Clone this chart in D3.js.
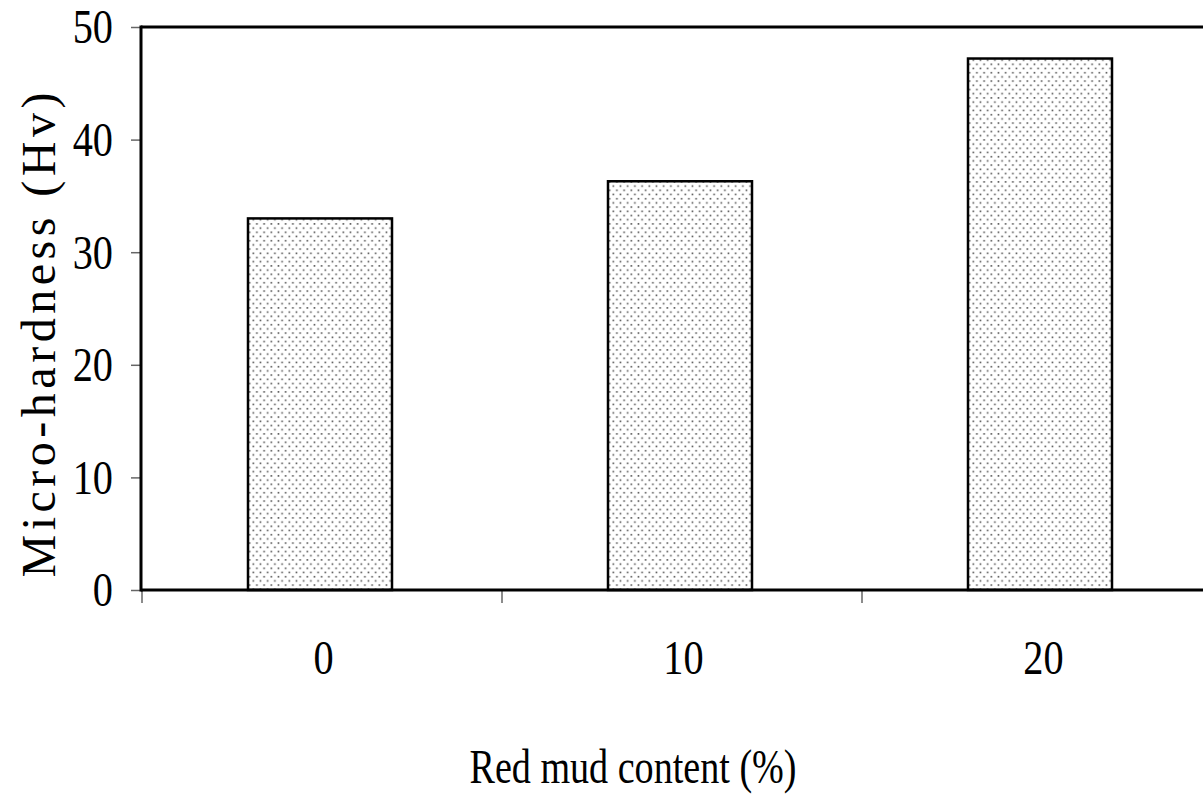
<html><head>
<meta charset="utf-8">
<script src="https://cdn.jsdelivr.net/npm/d3@7"></script>
<style>
body{
  margin: 0px;
  background: #fff;
}
text {
  font-family: "Liberation Serif", "Times New Roman", serif;
  fill: #000;
}
</style>
<title>Micro-hardness</title>
</head>
<body>
<script>
var width = 1203,
    height = 804;

// data
var categories = ["0", "10", "20"];
var hardness = [33.0, 36.3, 47.2];
var yTicks = [0, 10, 20, 30, 40, 50];

// plot edges (right edge runs past the window like the original)
var plotLeft = 141, plotTop = 27, plotBottom = 590, plotRight = 1221;
var squeeze = 0.84; // the original font is a bit narrow

var svg = d3.select("body").append("svg")
    .attr("width", width)
    .attr("height", height);

// dotted fill like the original
var defs = svg.append("defs");
var pat = defs.append("pattern")
    .attr("id", "dots")
    .attr("patternUnits", "userSpaceOnUse")
    .attr("width", 7.2)
    .attr("height", 8.4);
pat.append("rect").attr("width", 7.2).attr("height", 8.4).attr("fill", "#fff");
pat.append("rect").attr("x", 0.5).attr("y", 0.5).attr("width", 1.6).attr("height", 1.6).attr("fill", "#555");
pat.append("rect").attr("x", 4.1).attr("y", 4.7).attr("width", 1.6).attr("height", 1.6).attr("fill", "#555");

var x = d3.scaleBand()
    .domain(categories)
    .range([plotLeft, plotRight])
    .padding(0);

var y = d3.scaleLinear()
    .domain([0, 50])
    .range([plotBottom, plotTop]);

var barW = x.bandwidth() * 0.4;

svg.selectAll("rect.bar")
    .data(hardness)
    .enter().append("rect")
    .attr("class", "bar")
    .attr("x", function(d, i){ return x(categories[i]) + x.bandwidth()/2 - barW/2 - 1; })
    .attr("y", function(d){ return y(d); })
    .attr("width", barW)
    .attr("height", function(d){ return y(0) - y(d); })
    .attr("fill", "url(#dots)")
    .attr("stroke", "#000")
    .attr("stroke-width", 2.5);

// y axis
var yAxis = d3.axisLeft(y)
    .tickValues(yTicks)
    .tickSize(10)
    .tickFormat(d3.format("d"));

var gy = svg.append("g")
    .attr("transform", "translate(" + plotLeft + ",0)")
    .call(yAxis);
gy.select(".domain").remove();
gy.selectAll(".tick line").attr("stroke", "#666").attr("stroke-width", 1.5);
gy.selectAll(".tick text")
    .attr("font-size", 48)
    .attr("fill", "#000")
    .attr("x", -28 / squeeze)
    .attr("dy", "0.33em")
    .attr("transform", "scale(" + squeeze + ",1)");

// x axis: ticks at the band edges, labels at the band centres
var edges = categories.map(function(c){ return x(c); });
svg.selectAll("line.xtick")
    .data(edges)
    .enter().append("line")
    .attr("class", "xtick")
    .attr("x1", function(d){ return d + 1; })
    .attr("x2", function(d){ return d + 1; })
    .attr("y1", plotBottom)
    .attr("y2", plotBottom + 13)
    .attr("stroke", "#666")
    .attr("stroke-width", 1.5);

svg.selectAll("text.xlab")
    .data(categories)
    .enter().append("text")
    .attr("class", "xlab")
    .attr("transform", function(d){
      return "translate(" + (x(d) + x.bandwidth()/2 + 2.5) + ",674) scale(" + squeeze + ",1)";
    })
    .attr("text-anchor", "middle")
    .attr("font-size", 48)
    .text(function(d){ return d; });

// frame lines
svg.append("line")
    .attr("x1", plotLeft).attr("x2", width)
    .attr("y1", plotTop).attr("y2", plotTop)
    .attr("stroke", "#000").attr("stroke-width", 3);
svg.append("line")
    .attr("x1", plotLeft).attr("x2", width)
    .attr("y1", plotBottom).attr("y2", plotBottom)
    .attr("stroke", "#000").attr("stroke-width", 3);
svg.append("line")
    .attr("x1", plotLeft).attr("x2", plotLeft)
    .attr("y1", plotTop - 1.5).attr("y2", plotBottom + 1.5)
    .attr("stroke", "#000").attr("stroke-width", 3);

// titles
svg.append("text")
    .text("Red mud content (%)")
    .attr("x", 633)
    .attr("y", 783)
    .attr("text-anchor", "middle")
    .attr("font-size", 48)
    .attr("textLength", 327)
    .attr("lengthAdjust", "spacingAndGlyphs");

svg.append("text")
    .text("Micro-hardness (Hv)")
    .attr("transform", "translate(55,335) rotate(-90)")
    .attr("text-anchor", "middle")
    .attr("font-size", 48)
    .attr("textLength", 485)
    .attr("lengthAdjust", "spacing");
</script>
</body></html>
